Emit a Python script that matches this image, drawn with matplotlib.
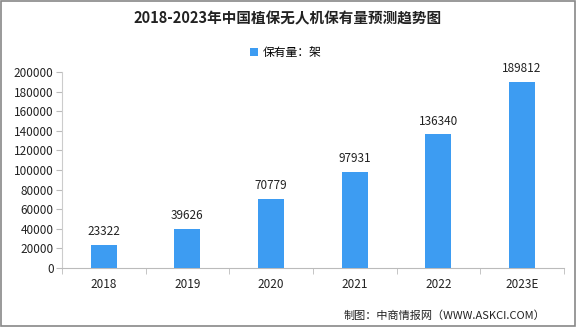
import numpy as np
import matplotlib.pyplot as plt
from matplotlib.patches import Rectangle

plt.rcParams['font.family'] = ['Noto Sans CJK SC', 'DejaVu Sans']

years = ['2018', '2019', '2020', '2021', '2022', '2023E']
values = [23322, 39626, 70779, 97931, 136340, 189812]
yticks = [0, 20000, 40000, 60000, 80000, 100000, 120000, 140000, 160000, 180000, 200000]

fig = plt.figure(figsize=(5.76, 3.27), dpi=100)
ax = fig.add_axes([0.1076, 0.1804, 0.8714, 0.5994])

x = np.arange(len(years))
bars = ax.bar(x, values, width=0.31, color='#3d9cf2', label='保有量：架', zorder=3)
for xi, v in zip(x, values):
    ax.text(xi, v + 7000, str(v), ha='center', va='bottom', fontsize=8.5, color='#222222')

ax.set_xlim(-0.5, len(years) - 0.5)
ax.set_ylim(0, 200000)
ax.set_yticks(yticks)
ax.set_yticklabels([str(t) for t in yticks], fontsize=8.5, color='#222222')
ax.set_xticks(x)
ax.set_xticklabels(years, fontsize=8.5, color='#222222')
ax.set_xticks(np.arange(-0.5, len(years)), minor=True)
ax.tick_params(axis='x', which='major', length=0, pad=7)
ax.tick_params(axis='x', which='minor', length=4, color='#bbbbbb')
ax.tick_params(axis='y', length=4, color='#bbbbbb', pad=2)

for s in ['top', 'right']:
    ax.spines[s].set_visible(False)
ax.spines['left'].set_color('#cccccc')
ax.spines['bottom'].set_color('#bbbbbb')

fig.text(0.5, 0.945, '2018-2023年中国植保无人机保有量预测趋势图', ha='center', va='center',
         fontsize=10.5, fontweight='bold', color='#222222')
ax.legend(loc='center', bbox_to_anchor=(0.446, 1.10), frameon=False, fontsize=8.5,
          handlelength=0.7, handleheight=0.7, handletextpad=0.4)

fig.text(0.946, 0.034, '制图：中商情报网（WWW.ASKCI.COM）', ha='right', va='center',
         fontsize=8, color='#222222')

fig.patches.append(Rectangle((0.002, 0.003), 0.996, 0.994, transform=fig.transFigure,
                             fill=False, edgecolor='#888888', linewidth=1.2))

fig.savefig('out.png', dpi=100)
